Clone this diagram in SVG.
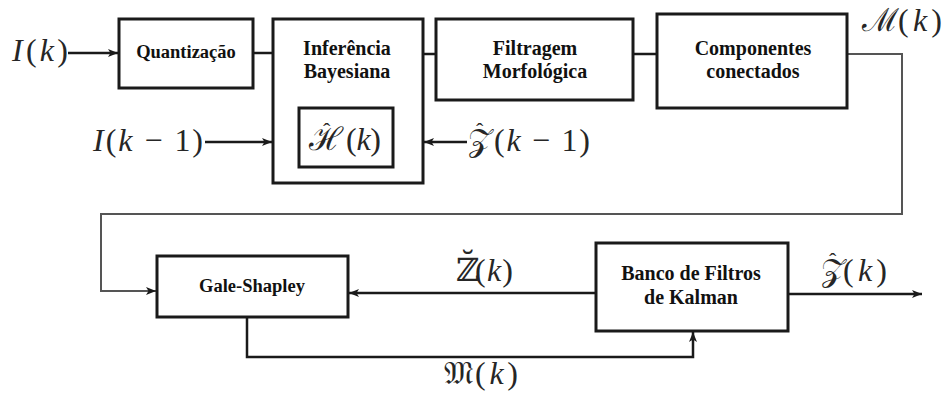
<svg xmlns="http://www.w3.org/2000/svg" width="944" height="398" viewBox="0 0 944 398">
  <style>
    .box { fill: #ffffff; stroke: #1a1a1a; stroke-width: 3; }
    .lbl { font-family: 'Liberation Serif', serif; font-weight: bold; font-size: 20px; fill: #111111; text-anchor: middle; }
    .sm { font-size: 18.5px; }
    .math { font-family: 'Liberation Serif', 'DejaVu Serif', serif; font-size: 32px; fill: #262626; }
    .it { font-style: italic; }
    .hat { font-size: 22px; font-style: normal; }
    .wire { fill: none; stroke: #1a1a1a; stroke-width: 2.5; }
    .fb { fill: none; stroke: #555555; stroke-width: 2; }
  </style>
  <defs>
    <marker id="arrow" viewBox="0 0 10 8" refX="10" refY="4" markerWidth="10" markerHeight="8" markerUnits="userSpaceOnUse" orient="auto">
      <path d="M0,0 L10,4 L0,8 L2.5,4 Z" fill="#1a1a1a"/>
    </marker>
  </defs>

  <rect width="944" height="398" fill="#ffffff"/>

  <!-- connectors -->
  <g id="connectors">
    <path class="wire" d="M68,53 H118" marker-end="url(#arrow)"/>
    <path class="wire" d="M253,53 H273"/>
    <path class="wire" d="M423,54 H436"/>
    <path class="wire" d="M633,54 H657"/>
    <path class="fb" d="M847,54 H902 V214 H101 V291 H156" marker-end="url(#arrow)"/>
    <path class="wire" d="M205,142 H272" marker-end="url(#arrow)"/>
    <path class="wire" d="M467,142 H424" marker-end="url(#arrow)"/>
    <path class="wire" d="M596,293 H349" marker-end="url(#arrow)"/>
    <path class="wire" d="M788,294 H922" marker-end="url(#arrow)"/>
    <path class="wire" d="M247,317 V357 H693 V332" marker-end="url(#arrow)"/>
  </g>

  <!-- signal labels -->
  <g id="signals">
    <text class="math" x="12" y="61" textLength="56"><tspan class="it">I</tspan>(<tspan class="it">k</tspan>)</text>
    <text class="math" x="93" y="151" textLength="110"><tspan class="it">I</tspan>(<tspan class="it">k</tspan> − 1)</text>
    <text class="math"><tspan x="468" y="151">𝒵</tspan><tspan class="hat" x="476" y="138">ˆ</tspan><tspan x="494" y="151" textLength="96">(<tspan class="it">k</tspan> − 1)</tspan></text>
    <text class="math"><tspan x="862" y="31">ℳ</tspan><tspan x="898" y="31" textLength="44">(<tspan class="it">k</tspan>)</tspan></text>
    <text class="math"><tspan x="456" y="281">ℤ̆</tspan><tspan x="475" y="281" textLength="38">(<tspan class="it">k</tspan>)</tspan></text>
    <text class="math"><tspan x="821" y="281">𝒵</tspan><tspan class="hat" x="829" y="268">ˆ</tspan><tspan x="843" y="281" textLength="44">(<tspan class="it">k</tspan>)</tspan></text>
    <text class="math"><tspan x="444" y="384">𝔐</tspan><tspan x="475" y="384" textLength="43">(<tspan class="it">k</tspan>)</tspan></text>
  </g>

  <!-- blocks -->
  <g id="quantizacao">
    <rect class="box" x="119" y="19" width="134" height="69"/>
    <text class="lbl sm" x="186" y="58">Quantização</text>
  </g>
  <g id="inferencia">
    <rect class="box" x="273" y="19" width="150" height="164"/>
    <text class="lbl" x="347" y="55">Inferência</text>
    <text class="lbl" x="347" y="78">Bayesiana</text>
  </g>
  <g id="hipotese">
    <rect class="box" x="299" y="108" width="94" height="59"/>
    <text class="math"><tspan x="309" y="150">ℋ</tspan><tspan class="hat" x="323" y="138">ˆ</tspan><tspan x="346" y="150" textLength="35">(<tspan class="it">k</tspan>)</tspan></text>
  </g>
  <g id="filtragem">
    <rect class="box" x="436" y="19" width="197" height="81"/>
    <text class="lbl" x="535" y="55">Filtragem</text>
    <text class="lbl" x="535" y="78">Morfológica</text>
  </g>
  <g id="componentes">
    <rect class="box" x="657" y="14" width="190" height="94"/>
    <text class="lbl" x="753" y="55">Componentes</text>
    <text class="lbl" x="753" y="78">conectados</text>
  </g>
  <g id="gale-shapley">
    <rect class="box" x="157" y="256" width="191" height="61"/>
    <text class="lbl sm" x="252" y="292">Gale-Shapley</text>
  </g>
  <g id="kalman">
    <rect class="box" x="596" y="243" width="192" height="88"/>
    <text class="lbl" x="691" y="280">Banco de Filtros</text>
    <text class="lbl" x="691" y="304">de Kalman</text>
  </g>
</svg>
